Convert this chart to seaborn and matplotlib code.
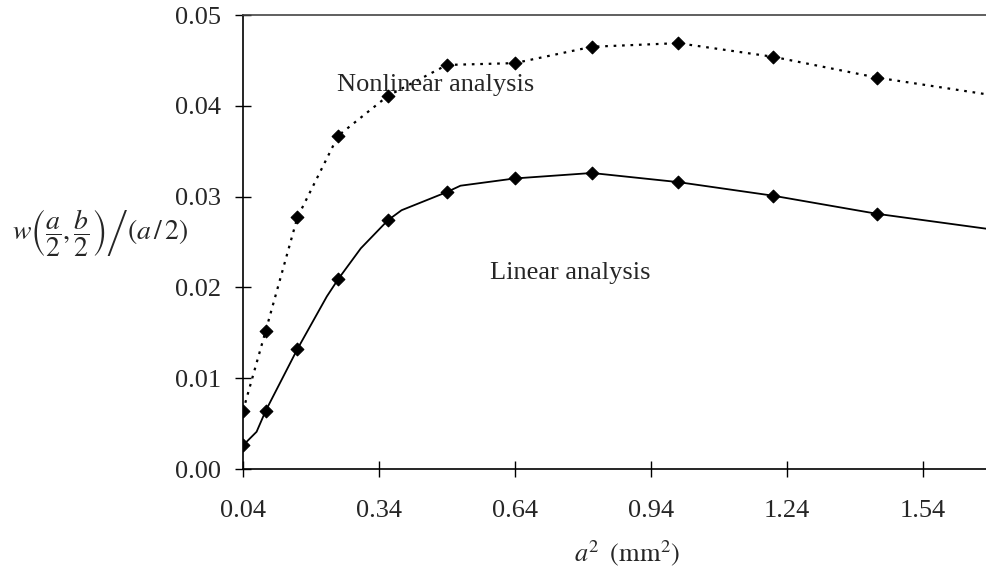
import matplotlib
matplotlib.use("Agg")
import matplotlib.pyplot as plt
import seaborn as sns
import pandas as pd

# ---- data ----
a2_points = [0.04, 0.09, 0.16, 0.25, 0.36, 0.49, 0.64, 0.81, 1.00, 1.21, 1.44]
linear_points = [0.0026, 0.0064, 0.0132, 0.0209, 0.0274, 0.0305, 0.0320, 0.0326, 0.0316, 0.0301, 0.0281]
nonlinear_points = [0.0064, 0.0152, 0.0277, 0.0367, 0.0411, 0.0445, 0.0447, 0.0465, 0.0469, 0.0454, 0.0431]

# curve traces (including intermediate bends)
a2_linear_curve = [0.04, 0.07, 0.09, 0.16, 0.225, 0.25, 0.30, 0.36, 0.39, 0.49, 0.52, 0.64, 0.81, 1.00, 1.21, 1.44, 1.69]
linear_curve = [0.0026, 0.0041, 0.0064, 0.0132, 0.0190, 0.0209, 0.0243, 0.0274, 0.0285, 0.0305, 0.0312, 0.0320, 0.0326, 0.0316, 0.0301, 0.0281, 0.0264]
a2_nonlinear_curve = [0.04, 0.09, 0.16, 0.25, 0.36, 0.49, 0.64, 0.81, 1.00, 1.21, 1.44, 1.69]
nonlinear_curve = [0.0064, 0.0152, 0.0277, 0.0367, 0.0411, 0.0445, 0.0447, 0.0465, 0.0469, 0.0454, 0.0431, 0.0412]

x_ticks = [0.04, 0.34, 0.64, 0.94, 1.24, 1.54]
y_ticks = [0.00, 0.01, 0.02, 0.03, 0.04, 0.05]

sns.set_theme(style="white")
plt.rcParams["font.family"] = ["Liberation Serif", "DejaVu Serif"]
plt.rcParams["mathtext.fontset"] = "stix"

fig = plt.figure(figsize=(9.86, 5.69), dpi=100)
ax = fig.add_axes([243 / 986, 1 - 469 / 569, 1 - 243 / 986, (469 - 15) / 569])

df_lin = pd.DataFrame({"x": a2_linear_curve, "y": linear_curve})
df_nl = pd.DataFrame({"x": a2_nonlinear_curve, "y": nonlinear_curve})
sns.lineplot(data=df_lin, x="x", y="y", ax=ax, color="black", lw=1.3, sort=False)
sns.lineplot(data=df_nl, x="x", y="y", ax=ax, color="black", lw=1.6, sort=False,
             linestyle=(0, (1.2, 2.6)))

df_pts = pd.DataFrame({"x": a2_points * 2, "y": linear_points + nonlinear_points})
sns.scatterplot(data=df_pts, x="x", y="y", ax=ax, marker="D", s=42, color="black",
                edgecolor="black", linewidth=0.8, zorder=5)

ax.set_xlim(0.04, 1.68)
ax.set_ylim(0.0, 0.05)
ax.set_xticks(x_ticks)
ax.set_xticklabels([f"{v:.2f}" for v in x_ticks])
ax.set_yticks(y_ticks)
ax.set_yticklabels([f"{v:.2f}" for v in y_ticks])
ax.tick_params(bottom=True, left=True, top=False, right=False,
               direction="inout", length=11, width=1.0, color="black",
               labelsize=19)
ax.tick_params(axis="y", pad=10.5)
ax.tick_params(axis="x", pad=16.5)
ax.set_xlabel("")
ax.set_ylabel("")

for s in ["left", "bottom", "top"]:
    ax.spines[s].set_color("black")
    ax.spines[s].set_linewidth(1.2)
ax.spines["top"].set_color("#444444")
ax.spines["right"].set_visible(False)

ax.text(0.2475, 0.0423, "Nonlinear analysis", fontsize=19, va="center", ha="left")
ax.text(0.585, 0.0216, "Linear analysis", fontsize=19, va="center", ha="left")

fig.text(627 / 986, 1 - 553 / 569, r"$a^2\;\;\left(\mathrm{mm}^2\right)$", fontsize=19,
         ha="center", va="center")
fig.text(100 / 986, 1 - 233 / 569,
         r"$\left.w\left(\dfrac{a}{2},\dfrac{b}{2}\right)\right/\left(a\,/\,2\right)$",
         fontsize=20, ha="center", va="center")

fig.savefig("out.png", dpi=100)
